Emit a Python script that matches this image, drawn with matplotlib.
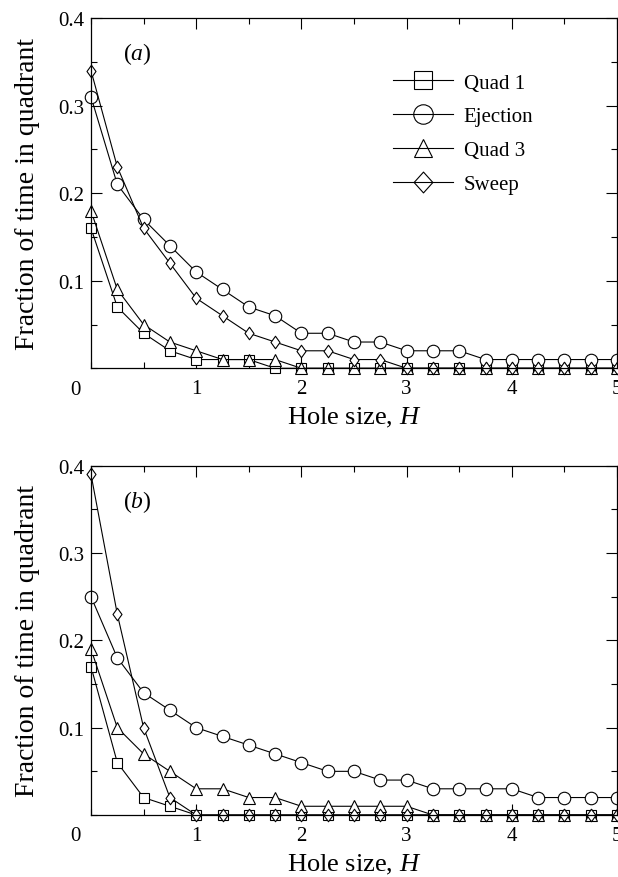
import matplotlib
matplotlib.use("Agg")
import matplotlib.pyplot as plt
from matplotlib.path import Path
from matplotlib.ticker import MultipleLocator, FixedLocator

plt.rcParams['font.family'] = ['Liberation Serif', 'DejaVu Serif']
plt.rcParams['mathtext.fontset'] = 'custom'
plt.rcParams['mathtext.rm'] = 'Liberation Serif'
plt.rcParams['mathtext.it'] = 'Liberation Serif:italic'

# ---- data ----
hole_size = [0.0, 0.25, 0.5, 0.75, 1.0, 1.25, 1.5, 1.75, 2.0, 2.25, 2.5,
             2.75, 3.0, 3.25, 3.5, 3.75, 4.0, 4.25, 4.5, 4.75, 5.0]

series_names = ["Quad 1", "Ejection", "Quad 3", "Sweep"]

quad1_a = [0.16, 0.07, 0.04, 0.02, 0.01, 0.01, 0.01, 0, 0, 0, 0,
           0, 0, 0, 0, 0, 0, 0, 0, 0, 0]
ejection_a = [0.31, 0.21, 0.17, 0.14, 0.11, 0.09, 0.07, 0.06, 0.04, 0.04, 0.03,
              0.03, 0.02, 0.02, 0.02, 0.01, 0.01, 0.01, 0.01, 0.01, 0.01]
quad3_a = [0.18, 0.09, 0.05, 0.03, 0.02, 0.01, 0.01, 0.01, 0, 0, 0,
           0, 0, 0, 0, 0, 0, 0, 0, 0, 0]
sweep_a = [0.34, 0.23, 0.16, 0.12, 0.08, 0.06, 0.04, 0.03, 0.02, 0.02, 0.01,
           0.01, 0, 0, 0, 0, 0, 0, 0, 0, 0]

quad1_b = [0.17, 0.06, 0.02, 0.01, 0, 0, 0, 0, 0, 0, 0,
           0, 0, 0, 0, 0, 0, 0, 0, 0, 0]
ejection_b = [0.25, 0.18, 0.14, 0.12, 0.10, 0.09, 0.08, 0.07, 0.06, 0.05, 0.05,
              0.04, 0.04, 0.03, 0.03, 0.03, 0.03, 0.02, 0.02, 0.02, 0.02]
quad3_b = [0.19, 0.10, 0.07, 0.05, 0.03, 0.03, 0.02, 0.02, 0.01, 0.01, 0.01,
           0.01, 0.01, 0, 0, 0, 0, 0, 0, 0, 0]
sweep_b = [0.39, 0.23, 0.10, 0.02, 0, 0, 0, 0, 0, 0, 0,
           0, 0, 0, 0, 0, 0, 0, 0, 0, 0]

x_ticks = [1, 2, 3, 4, 5]
y_ticks = [0.1, 0.2, 0.3, 0.4]

# ---- styles ----
diamond = Path([(0, 1), (0.72, 0), (0, -1), (-0.72, 0), (0, 1)],
               [Path.MOVETO, Path.LINETO, Path.LINETO, Path.LINETO, Path.CLOSEPOLY])
legend_diamond = Path([(0, 1), (0.9, 0), (0, -1), (-0.9, 0), (0, 1)],
                      [Path.MOVETO, Path.LINETO, Path.LINETO, Path.LINETO, Path.CLOSEPOLY])
styles = [dict(marker='s', ms=7.9, lms=13.5),
          dict(marker='o', ms=9.0, lms=14.0),
          dict(marker='^', ms=8.3, lms=13.5),
          dict(marker=diamond, ms=9.0, lms=15.0)]

fig = plt.figure(figsize=(6.18, 8.78), dpi=100)
W, Hh = 618.0, 878.0

def make_axes(top_px, bottom_px):
    left_px, right_px = 91.0, 617.0
    return fig.add_axes([left_px / W, 1 - bottom_px / Hh,
                         (right_px - left_px) / W, (bottom_px - top_px) / Hh])

ax_a = make_axes(19.0, 369.3)
ax_b = make_axes(466.7, 816.0)

panels = [(ax_a, [quad1_a, ejection_a, quad3_a, sweep_a], "($a$)", 369.3),
          (ax_b, [quad1_b, ejection_b, quad3_b, sweep_b], "($b$)", 816.0)]

for ax, data, tag, bottom_px in panels:
    for name, vals, st in zip(series_names, data, styles):
        ax.plot(hole_size, vals, color='black', lw=0.8, marker=st['marker'],
                ms=st['ms'], mfc='white', mec='black', mew=0.8, label=name,
                clip_on=False)
    ax.set_xlim(0, 5)
    ax.set_ylim(0, 0.4)
    ax.xaxis.set_major_locator(FixedLocator(x_ticks))
    ax.xaxis.set_minor_locator(MultipleLocator(0.5))
    ax.yaxis.set_major_locator(FixedLocator(y_ticks))
    ax.yaxis.set_minor_locator(MultipleLocator(0.05))
    ax.set_xticklabels([str(t) for t in x_ticks])
    ax.set_yticklabels([f"{t:.1f}" for t in y_ticks])
    ax.tick_params(which='both', direction='in', top=True, right=True,
                   width=0.8, labelsize=15, colors='black')
    ax.tick_params(which='major', length=8)
    ax.tick_params(which='minor', length=4)
    ax.tick_params(axis='x', pad=8)
    ax.tick_params(axis='y', pad=5)
    for sp in ax.spines.values():
        sp.set_linewidth(0.9)
    ax.set_xlabel("Hole size, $H$", fontsize=19, labelpad=5)
    ax.set_ylabel("Fraction of time in quadrant", fontsize=20, labelpad=13)
    ax.text(0.44, 0.36, tag, fontsize=17, ha='center', va='center')
    fig.text(75 / W, 1 - (bottom_px + 21) / Hh, "0", fontsize=15,
             ha='center', va='center')

leg = ax_a.legend(loc='upper left', bbox_to_anchor=(0.574, 0.843), frameon=False,
                  fontsize=15, handlelength=2.9, handletextpad=0.5,
                  labelspacing=0.68, borderpad=0, borderaxespad=0, numpoints=1)
for h, st in zip(leg.legend_handles, styles):
    h.set_markersize(st['lms'])
    h.set_markerfacecolor('none')
    if st['marker'] is diamond:
        h.set_marker(legend_diamond)

fig.savefig("out.png", dpi=100)
